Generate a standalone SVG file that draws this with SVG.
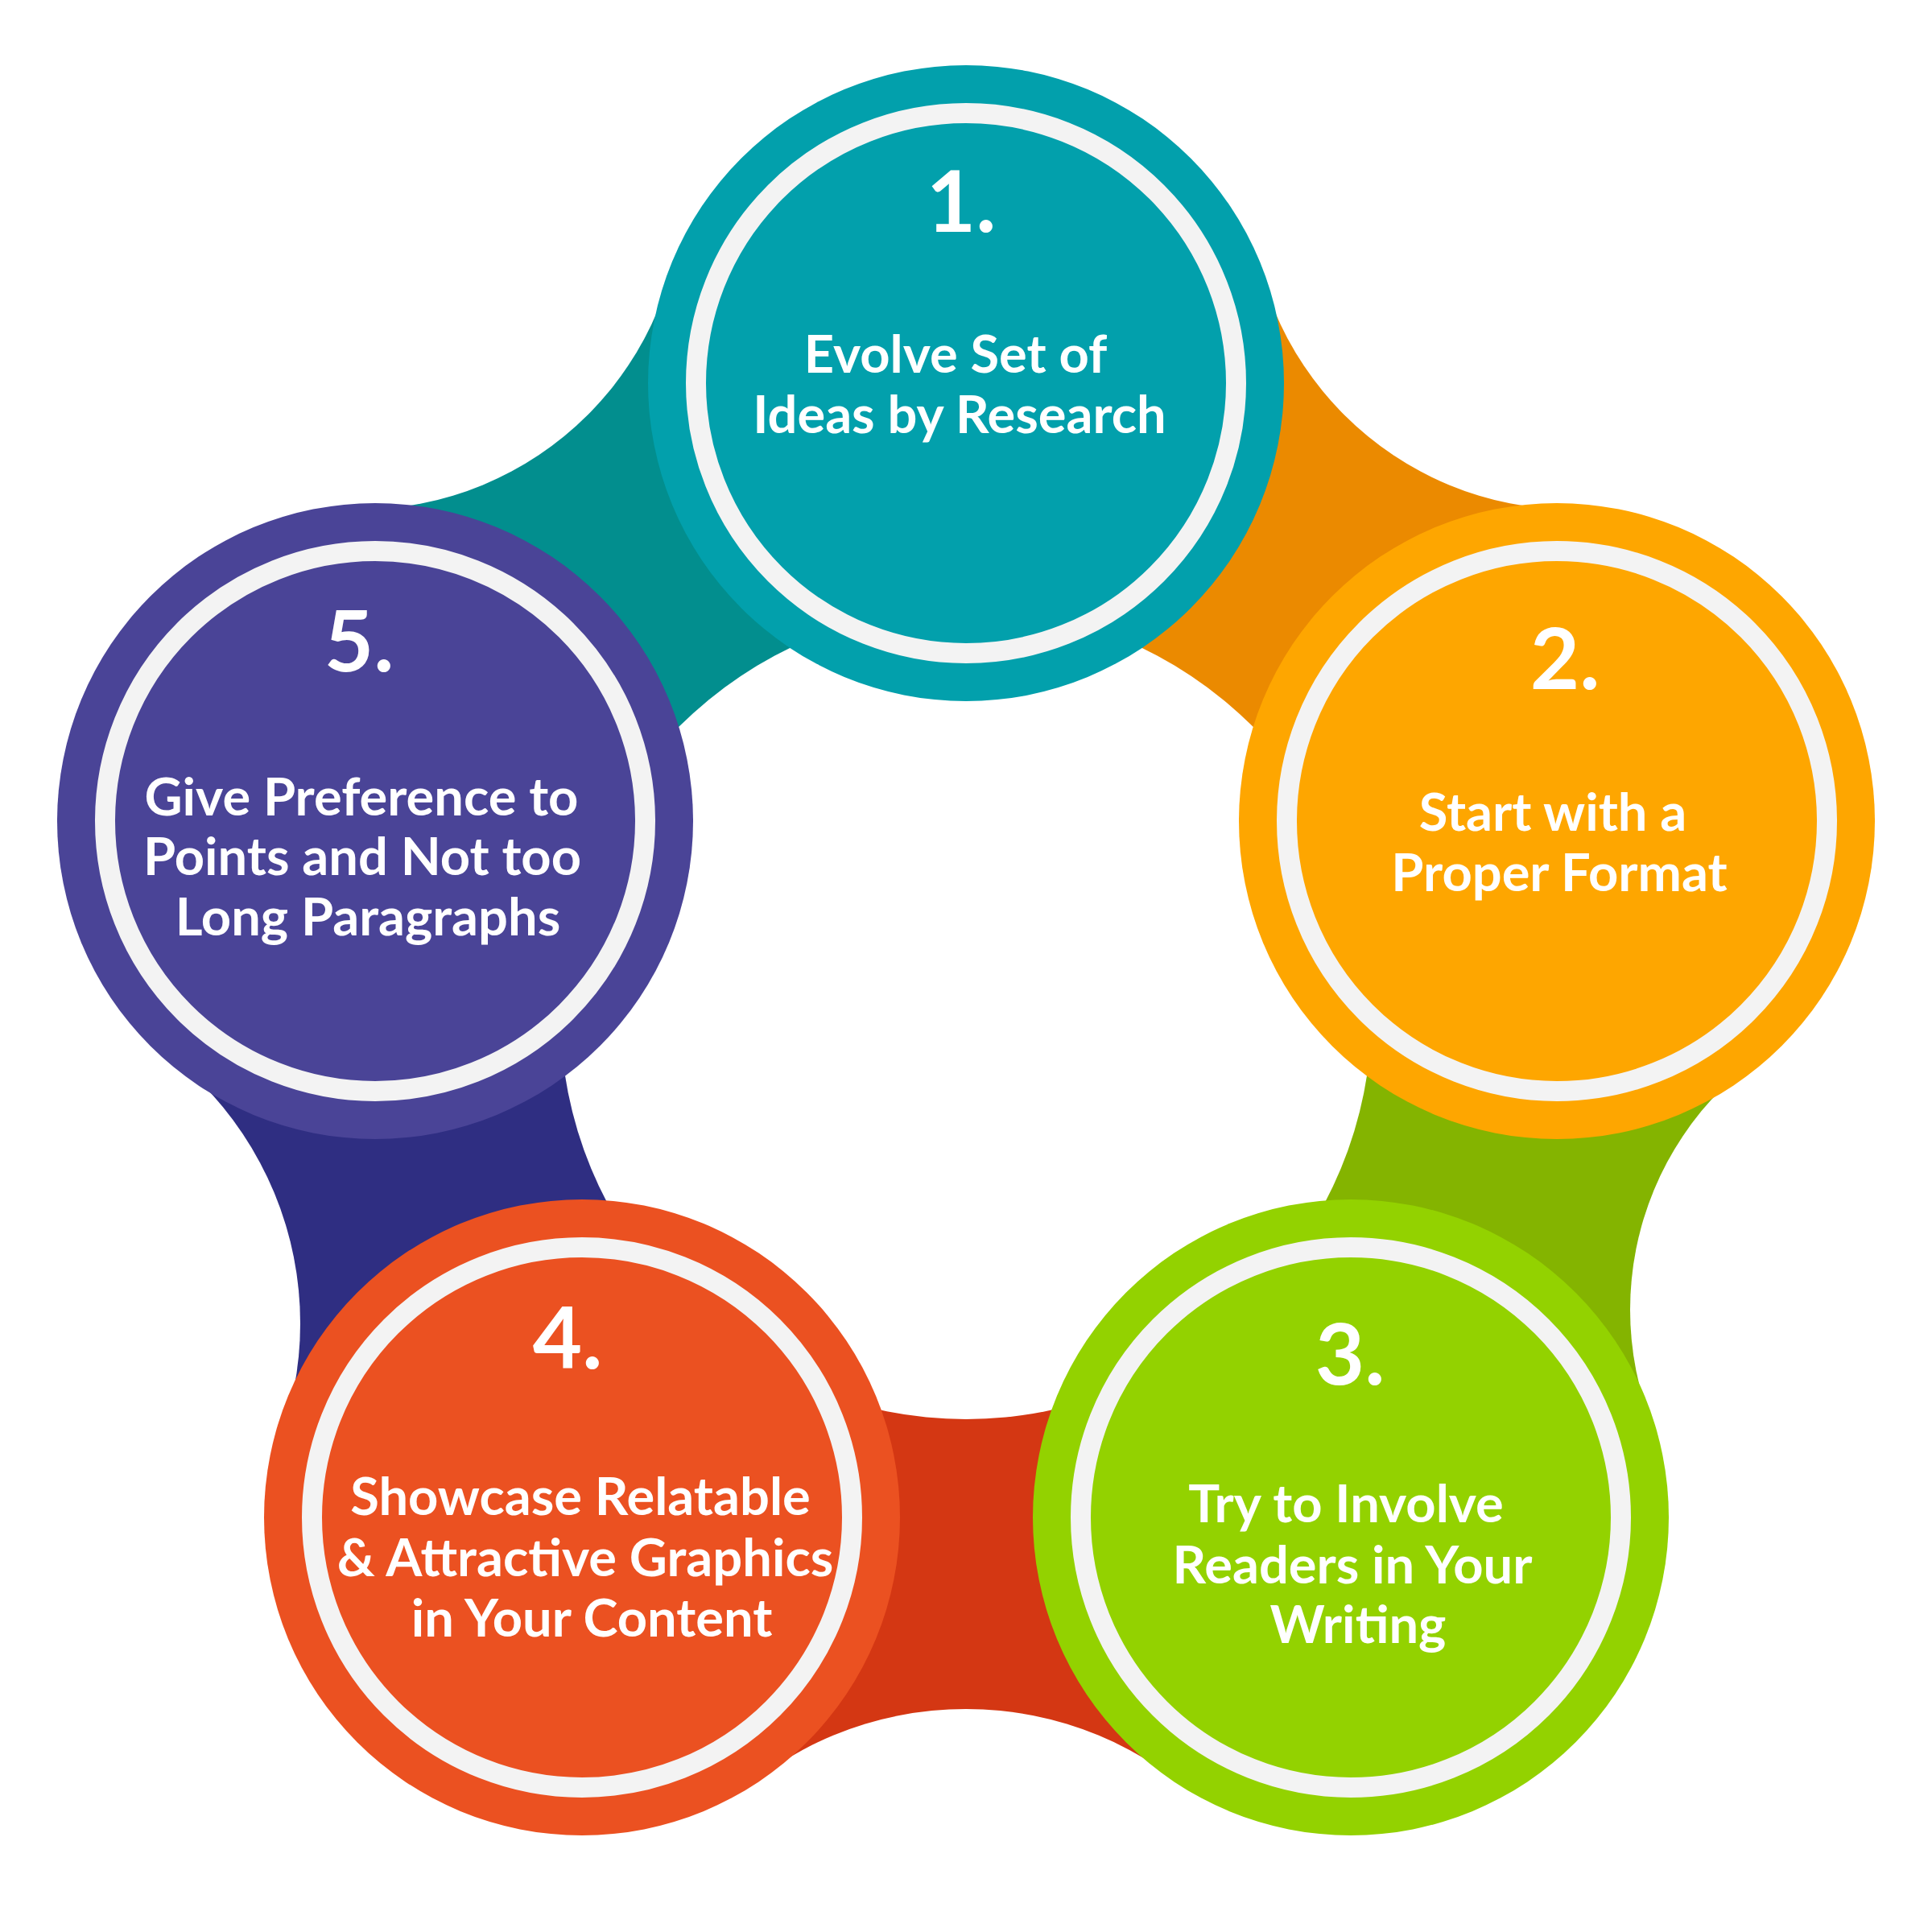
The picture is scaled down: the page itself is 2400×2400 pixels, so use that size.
<svg xmlns="http://www.w3.org/2000/svg" width="2400" height="2400" viewBox="0 0 2400 2400">
<style>
.ring{fill:none;stroke:#f3f3f3;stroke-width:25}
.num{font-family:Lato,"Open Sans","Liberation Sans",sans-serif;font-weight:700;font-size:106px;fill:#fff;text-anchor:middle}
.lbl{font-family:Lato,"Open Sans","Liberation Sans",sans-serif;font-weight:700;font-size:65px;fill:#fff;text-anchor:middle}
</style>
<defs>
<mask id="bandMask" maskUnits="userSpaceOnUse" x="0" y="0" width="2400" height="2400">
<rect x="0" y="0" width="2400" height="2400" fill="#fff"/>
<circle cx="1200" cy="1259" r="504" fill="#000"/>
<circle cx="446" cy="231" r="402" fill="#000"/>
<circle cx="1954" cy="231" r="402" fill="#000"/>
<circle cx="2413" cy="1627" r="388" fill="#000"/>
<circle cx="1200" cy="2554" r="431" fill="#000"/>
<circle cx="-51" cy="1644" r="424" fill="#000"/>
</mask>
</defs>
<rect x="0" y="0" width="2400" height="2400" fill="#fff"/>
<g id="connectors" mask="url(#bandMask)">
<polygon id="band-5-1" points="1200,1259 466,1020 446,231 1200,476" fill="#028e8e"/>
<polygon id="band-1-2" points="1200,1259 1200,476 1954,231 1934,1020" fill="#eb8a00"/>
<polygon id="band-2-3" points="1200,1259 1934,1020 2413,1627 1678,1885" fill="#84b400"/>
<polygon id="band-3-4" points="1200,1259 1678,1885 1200,2554 723,1885" fill="#d43713"/>
<polygon id="band-4-5" points="1200,1259 723,1885 -51,1644 466,1020" fill="#2f2e82"/>
</g>
<g id="node-1">
<circle cx="1200" cy="476" r="395" fill="#02a0ac"/>
<circle class="ring" cx="1200" cy="476" r="335.5"/>
<text class="num" x="1194" y="288">1.</text>
<text class="lbl" x="1187" y="463">Evolve Set of</text>
<text class="lbl" x="1192" y="538">Ideas by Research</text>
</g>
<g id="node-2">
<circle cx="1934" cy="1020" r="395" fill="#fea600"/>
<circle class="ring" cx="1934" cy="1020" r="335.5"/>
<text class="num" x="1944" y="856">2.</text>
<text class="lbl" x="1929" y="1032">Start with a</text>
<text class="lbl" x="1937" y="1107">Proper Format</text>
</g>
<g id="node-3">
<circle cx="1678" cy="1885" r="395" fill="#93d200"/>
<circle class="ring" cx="1678" cy="1885" r="335.5"/>
<text class="num" x="1677" y="1720">3.</text>
<text class="lbl" x="1672" y="1891">Try to Involve</text>
<text class="lbl" x="1680" y="1967">Readers in Your</text>
<text class="lbl" x="1687" y="2041">Writing</text>
</g>
<g id="node-4">
<circle cx="723" cy="1885" r="395" fill="#eb5121"/>
<circle class="ring" cx="723" cy="1885" r="335.5"/>
<text class="num" x="705" y="1700">4.</text>
<text class="lbl" x="721" y="1882">Showcase Relatable</text>
<text class="lbl" x="727" y="1958">&amp; Attractive Graphics</text>
<text class="lbl" x="735" y="2033">in Your Content</text>
</g>
<g id="node-5">
<circle cx="466" cy="1020" r="395" fill="#4a4497"/>
<circle class="ring" cx="466" cy="1020" r="335.5"/>
<text class="num" x="446" y="834">5.</text>
<text class="lbl" x="449" y="1013">Give Preference to</text>
<text class="lbl" x="450" y="1087">Points and Not too</text>
<text class="lbl" x="457" y="1162">Long Paragraphs</text>
</g>
</svg>
